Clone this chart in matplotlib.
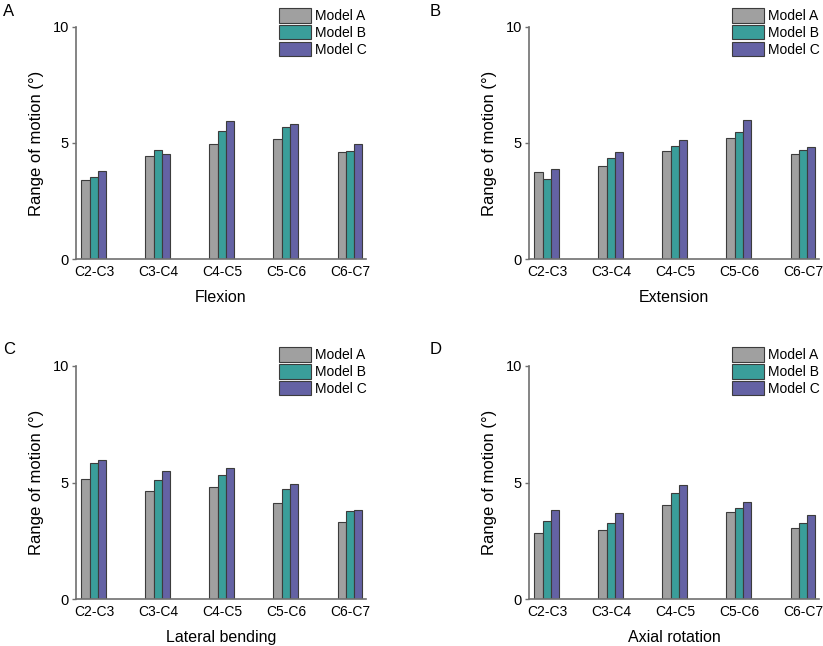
import matplotlib.pyplot as plt
import numpy as np

plt.rcParams['font.family'] = ['Liberation Sans', 'DejaVu Sans']

# Segments and models
segments = ['C2-C3', 'C3-C4', 'C4-C5', 'C5-C6', 'C6-C7']
models = ['Model A', 'Model B', 'Model C']
colors = ['#a0a0a0', '#3a9e9a', '#6462a4']

# Range of motion (deg)
flexion_a = [3.40, 4.43, 4.96, 5.16, 4.60]
flexion_b = [3.54, 4.71, 5.50, 5.67, 4.66]
flexion_c = [3.79, 4.51, 5.93, 5.80, 4.94]

extension_a = [3.74, 4.01, 4.66, 5.20, 4.51]
extension_b = [3.47, 4.37, 4.89, 5.46, 4.69]
extension_c = [3.90, 4.63, 5.11, 6.01, 4.81]

lateral_a = [5.16, 4.64, 4.81, 4.13, 3.31]
lateral_b = [5.84, 5.13, 5.31, 4.71, 3.80]
lateral_c = [5.99, 5.51, 5.63, 4.96, 3.83]

axial_a = [2.84, 2.99, 4.06, 3.73, 3.07]
axial_b = [3.34, 3.26, 4.54, 3.91, 3.26]
axial_c = [3.81, 3.69, 4.91, 4.16, 3.60]

panels = [
    ('A', 'Flexion', [flexion_a, flexion_b, flexion_c]),
    ('B', 'Extension', [extension_a, extension_b, extension_c]),
    ('C', 'Lateral bending', [lateral_a, lateral_b, lateral_c]),
    ('D', 'Axial rotation', [axial_a, axial_b, axial_c]),
]

# axes rectangles in figure fractions
W, H = 823, 646
rects = [
    (76 / W, 1 - 259.3 / H, 290 / W, 232.6 / H),
    (529 / W, 1 - 259.3 / H, 290 / W, 232.6 / H),
    (76 / W, 1 - 599.3 / H, 290 / W, 233.3 / H),
    (529 / W, 1 - 599.3 / H, 290 / W, 233.3 / H),
]
letter_pos = [(3 / W, 1 - 11 / H), (430 / W, 1 - 11 / H),
              (3 / W, 1 - 350 / H), (430 / W, 1 - 350 / H)]

fig = plt.figure(figsize=(8.23, 6.46), dpi=100)
x = np.arange(len(segments))
w = 0.13
spine_col = '#707070'

for (letter, xlabel, series), rect, lp in zip(panels, rects, letter_pos):
    ax = fig.add_axes(rect)
    for i, (vals, col, name) in enumerate(zip(series, colors, models)):
        ax.bar(x + (i - 1) * w, vals, w, color=col, edgecolor='#3c3c3c',
               linewidth=0.8, label=name)
    ax.set_xlim(-0.28, 4.25)
    ax.set_ylim(0, 10)
    ax.set_yticks([0, 5, 10])
    ax.set_xticks(x)
    ax.set_xticklabels(segments)
    ax.tick_params(axis='x', length=0, pad=4, labelsize=10)
    ax.tick_params(axis='y', length=3, width=1, color=spine_col, labelsize=10.5, pad=2)
    for s in ['top', 'right']:
        ax.spines[s].set_visible(False)
    for s in ['left', 'bottom']:
        ax.spines[s].set_color(spine_col)
        ax.spines[s].set_linewidth(1.2)
    ax.set_ylabel('Range of motion (°)', fontsize=12)
    ax.yaxis.set_label_coords(-0.11, 0.5)
    ax.set_xlabel(xlabel, fontsize=11.5, labelpad=8)
    ax.legend(loc='upper left', bbox_to_anchor=(0.70, 1.08), frameon=False,
              fontsize=10, borderpad=0, borderaxespad=0, handlelength=2.3,
              handleheight=1.22, labelspacing=0.14, handletextpad=0.3)
    fig.text(lp[0], lp[1], letter, fontsize=12, va='center', ha='left')

fig.savefig('out.png', dpi=100)
